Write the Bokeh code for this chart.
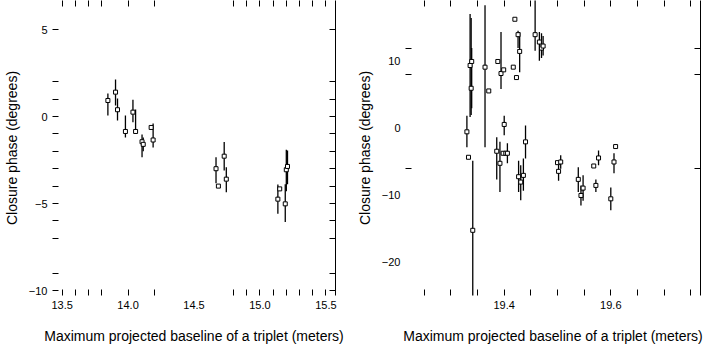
from bokeh.plotting import figure
from bokeh.layouts import row
from bokeh.models import ColumnDataSource, LinearAxis, FixedTicker, Range1d
from bokeh.embed import file_html
from bokeh.resources import INLINE

# ---------------- data ----------------
# Left panel: shorter triplets
left_x = [13.847, 13.905, 13.920, 13.980, 14.037, 14.057, 14.106, 14.115, 14.175, 14.190,
          14.667, 14.685, 14.729, 14.745, 15.136, 15.150, 15.192, 15.200, 15.209]
left_y = [0.92, 1.40, 0.39, -0.86, 0.25, -0.86, -1.45, -1.60, -0.63, -1.35,
          -3.00, -4.00, -2.28, -3.60, -4.75, -4.16, -5.02, -3.06, -2.87]
left_lo = [0.06, 0.63, -0.23, -1.21, -0.33, -1.00, -2.34, -2.00, -0.70, -1.78,
           -3.83, -4.05, -3.10, -4.35, -5.59, -4.25, -6.07, -4.30, -3.90]
left_hi = [1.32, 2.13, 1.03, 0.06, 0.96, 0.40, -1.03, -1.20, -0.55, -0.40,
           -2.34, -3.95, -1.47, -2.91, -3.91, -4.05, -3.90, -1.91, -1.95]

# Right panel: longer triplets
right_x = [19.336, 19.338, 19.339, 19.330, 19.333, 19.341, 19.364, 19.371,
           19.388, 19.394, 19.399, 19.386, 19.392, 19.400, 19.398, 19.403, 19.406,
           19.427, 19.431, 19.436, 19.440,
           19.420, 19.417, 19.423, 19.426, 19.429, 19.458, 19.466, 19.470, 19.473,
           19.500, 19.502, 19.506, 19.539, 19.544, 19.548,
           19.568, 19.577, 19.572, 19.609, 19.606, 19.600]
right_y = [9.4, 6.0, 10.0, -0.5, -4.3, -15.2, 9.15, 5.6,
           10.0, 8.2, 8.75, -3.4, -5.2, 0.6, -3.7, -3.7, -3.7,
           -7.2, -8.0, -7.0, -2.0,
           16.3, 9.15, 7.6, 14.0, 11.5, 14.0, 12.9, 12.0, 12.3,
           -5.1, -6.4, -5.0, -7.6, -10.0, -8.9,
           -5.6, -4.4, -8.5, -2.7, -5.0, -10.5]
right_lo = [1.7, 2.0, 3.0, -2.8, -4.5, -25.6, -2.8, 5.4,
            9.8, 5.9, 8.6, -7.6, -9.5, -1.0, -4.0, -4.0, -5.2,
            -9.5, -10.7, -9.3, -4.5,
            16.1, 9.0, 7.4, 12.0, 8.4, 11.6, 10.1, 10.5, 10.9,
            -5.3, -7.8, -6.0, -9.5, -11.5, -10.8,
            -5.8, -5.5, -9.5, -2.9, -6.7, -12.2]
right_hi = [17.1, 16.5, 12.0, 1.9, -4.1, -4.8, 18.4, 5.8,
            10.2, 14.4, 8.9, -1.3, -2.0, 1.9, -3.4, -3.4, -2.2,
            -4.8, -5.5, -4.5, 0.45,
            16.5, 9.3, 7.8, 14.6, 14.4, 20.5, 14.4, 14.2, 13.8,
            -4.9, -5.0, -4.0, -5.8, -8.5, -7.0,
            -5.4, -3.3, -7.6, -2.5, -3.7, -8.8]

# ---------------- ticks ----------------
left_x_labels = [13.5, 14.0, 14.5, 15.0, 15.5]
left_x_label_text = ["13.5", "14.0", "14.5", "15.0", "15.5"]
left_x_marks = [13.5, 13.6, 13.7, 13.8, 14.0, 14.2, 14.8, 14.9, 15.0, 15.1, 15.2, 15.3, 15.4, 15.5]
left_y_labels = [-10, -5, 0, 5]
left_y_label_text = ["\u221210", "\u22125", "0", "5"]
left_y_marks = [-10, -9, -7, -6, -5, -4, -3, -2, -1, 0, 1, 2, 5]

right_x_labels = [19.4, 19.6]
right_x_label_text = ["19.4", "19.6"]
right_x_marks = [19.25, 19.30, 19.35, 19.40, 19.45, 19.50, 19.55, 19.60, 19.65, 19.70, 19.75]
right_y_labels = [-20, -10, 0, 10]
right_y_label_text = ["\u221220", "\u221210", "0", "10"]
right_y_marks = [-6, 8, 12]

XLABEL = "Maximum projected baseline of a triplet (meters)"
YLABEL = "Closure phase (degrees)"
FONT = "Liberation Sans"


def tick_axis(ax, labels, label_text, marks, show_line=False):
    ax.ticker = FixedTicker(ticks=labels, minor_ticks=marks)
    if labels:
        ax.major_label_overrides = dict(zip(labels, label_text))
    ax.major_tick_in = 0
    ax.major_tick_out = 0
    ax.minor_tick_in = 6
    ax.minor_tick_out = 0
    ax.minor_tick_line_color = "black"
    ax.minor_tick_line_width = 1
    ax.axis_line_color = "black" if show_line else None
    ax.axis_line_width = 1
    ax.major_label_text_font = FONT
    ax.major_label_text_font_size = "11px"
    ax.major_label_text_color = "black"
    ax.major_label_standoff = 5 if labels else 0
    ax.axis_label_text_font = FONT
    ax.axis_label_text_font_size = "14px"
    ax.axis_label_text_font_style = "normal"
    ax.axis_label_text_color = "black"


def panel(xs, ys, los, his, xr, yr, width, bl, br,
          xl, xlt, xm, yl, ylt, ym):
    p = figure(width=width, height=346, x_range=Range1d(*xr), y_range=Range1d(*yr),
               output_backend="svg", toolbar_location=None,
               x_axis_location=None, y_axis_location=None,
               min_border_left=bl, min_border_right=br,
               min_border_top=0, min_border_bottom=51)
    p.outline_line_color = None
    p.background_fill_color = "white"
    p.border_fill_color = "white"
    p.xgrid.visible = False
    p.ygrid.visible = False

    below = LinearAxis()
    tick_axis(below, xl, xlt, xm)
    below.axis_label = XLABEL
    below.axis_label_standoff = 16
    p.add_layout(below, "below")

    above = LinearAxis()
    tick_axis(above, [], [], xm)
    p.add_layout(above, "above")

    left = LinearAxis()
    tick_axis(left, yl, ylt, ym)
    left.axis_label = YLABEL
    left.axis_label_standoff = 6
    p.add_layout(left, "left")

    right = LinearAxis()
    tick_axis(right, [], [], ym, show_line=True)
    p.add_layout(right, "right")

    src = ColumnDataSource(dict(x=xs, y=ys, lo=los, hi=his))
    p.segment(x0="x", y0="lo", x1="x", y1="hi", source=src,
              line_color="black", line_width=1.3)
    p.scatter(x="x", y="y", source=src, marker="square", size=4,
              fill_color="white", line_color="black", line_width=1)
    return p


p1 = panel(left_x, left_y, left_lo, left_hi,
           (13.427, 15.573), (-10.287, 6.667), 352, 42, 17,
           left_x_labels, left_x_label_text, left_x_marks,
           left_y_labels, left_y_label_text, left_y_marks)

p2 = panel(right_x, right_y, right_lo, right_hi,
           (19.2148, 19.7683), (-24.93, 19.1), 359, 53, 11,
           right_x_labels, right_x_label_text, right_x_marks,
           right_y_labels, right_y_label_text, right_y_marks)

layout = row(p1, p2)
open("out.html", "w").write(file_html(layout, INLINE))
